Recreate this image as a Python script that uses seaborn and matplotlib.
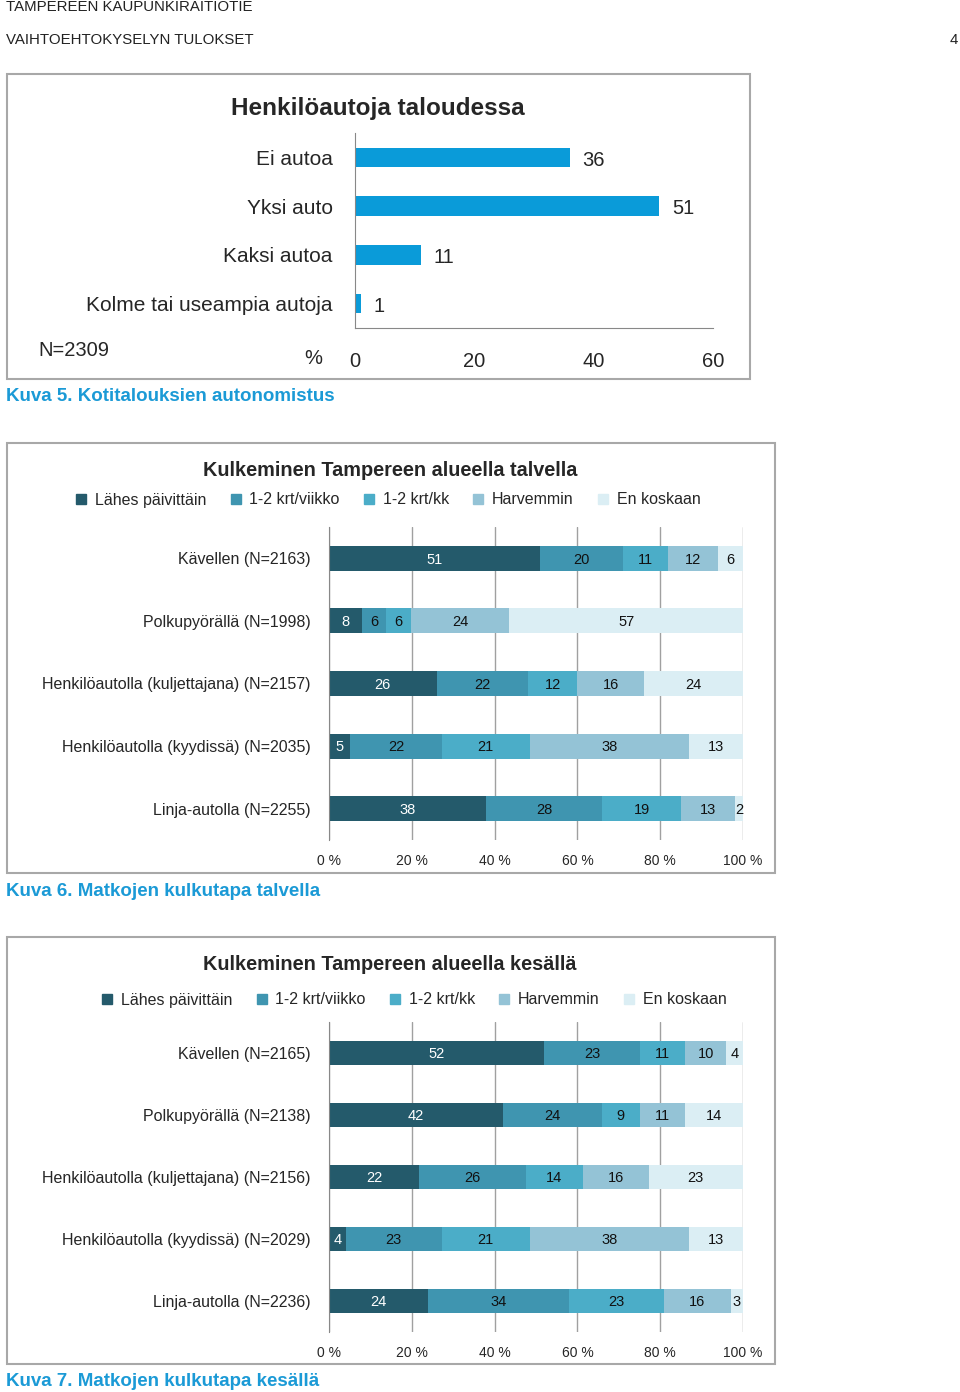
import numpy as np
import matplotlib
matplotlib.use('Agg')
import matplotlib.pyplot as plt
import seaborn as sns
from matplotlib.patches import Rectangle
from matplotlib.lines import Line2D

# data
cars_labels = ['Ei autoa', 'Yksi auto', 'Kaksi autoa', 'Kolme tai useampia autoja']
cars_values = [36, 51, 11, 1]

freq_levels = ['Lähes päivittäin', '1-2 krt/viikko', '1-2 krt/kk', 'Harvemmin', 'En koskaan']
freq_colors = ['#245a6b', '#3f95b0', '#4badc8', '#94c3d6', '#dbeef4']

winter_labels = ['Kävellen (N=2163)', 'Polkupyörällä (N=1998)',
                 'Henkilöautolla (kuljettajana) (N=2157)',
                 'Henkilöautolla (kyydissä) (N=2035)', 'Linja-autolla (N=2255)']
winter_values = [[51, 20, 11, 12, 6],
                 [8, 6, 6, 24, 57],
                 [26, 22, 12, 16, 24],
                 [5, 22, 21, 38, 13],
                 [38, 28, 19, 13, 2]]

summer_labels = ['Kävellen (N=2165)', 'Polkupyörällä (N=2138)',
                 'Henkilöautolla (kuljettajana) (N=2156)',
                 'Henkilöautolla (kyydissä) (N=2029)', 'Linja-autolla (N=2236)']
summer_values = [[52, 23, 11, 10, 4],
                 [42, 24, 9, 11, 14],
                 [22, 26, 14, 16, 23],
                 [4, 23, 21, 38, 13],
                 [24, 34, 23, 16, 3]]

W, H = 960, 1392
sns.set_style('white')
plt.rcParams['font.family'] = ['Liberation Sans', 'DejaVu Sans']
fig = plt.figure(figsize=(W / 100, H / 100), dpi=100)

def fx(x):
    return x / W

def fy(y):
    return 1 - y / H

def add_ax(l, t, r, b):
    return fig.add_axes([fx(l), fy(b), (r - l) / W, (b - t) / H])

def box(l, t, r, b):
    fig.add_artist(Rectangle((fx(l), fy(b)), (r - l) / W, (b - t) / H, transform=fig.transFigure,
                             fill=False, ec='#a8a8a8', lw=1.5))

blue = '#1b9ad6'
grey = '#a0a0a0'

# page header
fig.text(fx(6), fy(7), 'TAMPEREEN KAUPUNKIRAITIOTIE', fontsize=10.8, va='center', color='#222222')
fig.text(fx(6), fy(40), 'VAIHTOEHTOKYSELYN TULOKSET', fontsize=10.8, va='center', color='#222222')
fig.text(fx(958), fy(40), '4', fontsize=10.8, va='center', ha='right', color='#222222')

# ---- panel 1
box(7, 74, 750, 379)
fig.text(fx(378), fy(108), 'Henkilöautoja taloudessa', fontsize=17.5, fontweight='bold', ha='center', va='center')
ax1 = add_ax(355, 133, 713, 328)
sns.barplot(x=cars_values, y=cars_labels, orient='h', color='#0a9bd9', saturation=1,
            width=0.4, errorbar=None, linewidth=0, ax=ax1)
for i, v in enumerate(cars_values):
    ax1.annotate(str(v), (v, i), xytext=(9, -2), textcoords='offset points',
                 ha='left', va='center', fontsize=14.5)
ax1.set_xlim(0, 60)
ax1.set_xticks([0, 20, 40, 60])
ax1.set_yticks(np.arange(-0.5, len(cars_labels), 1), minor=True)
ax1.tick_params(axis='y', which='major', length=0, pad=16, labelsize=15)
ax1.tick_params(axis='y', which='minor', length=5, color='#888888', direction='out')
ax1.tick_params(axis='x', length=5, color='#888888', direction='out', pad=12, labelsize=14.5)
for s in ['top', 'right']:
    ax1.spines[s].set_visible(False)
for s in ['left', 'bottom']:
    ax1.spines[s].set_color('#888888')
ax1.set_xlabel('')
ax1.set_ylabel('')
fig.text(fx(313), fy(358), '%', fontsize=14.5, ha='center', va='center')
fig.text(fx(38), fy(350), 'N=2309', fontsize=14.5, va='center')
fig.text(fx(6), fy(397), 'Kuva 5. Kotitalouksien autonomistus', fontsize=13.5, fontweight='bold',
         color=blue, va='center')


def stacked_panel(l, t, r, b, labels, values, title, title_y, legend_cx, legend_y):
    vals = np.array(values, dtype=float)
    pct = vals / vals.sum(axis=1, keepdims=True) * 100
    cum = pct.cumsum(axis=1)
    ax = add_ax(l, t, r, b)
    for k in range(len(freq_levels) - 1, -1, -1):
        sns.barplot(x=cum[:, k], y=labels, orient='h', color=freq_colors[k], saturation=1,
                    width=0.4, errorbar=None, linewidth=0, ax=ax)
    for i in range(len(labels)):
        for k in range(len(freq_levels)):
            c = cum[i, k] - pct[i, k] / 2
            ax.text(c, i + 0.02, str(values[i][k]), ha='center', va='center', fontsize=10.5,
                    color='white' if k == 0 else '#111111')
    ax.set_xlim(0, 100)
    ax.set_xticks(np.arange(0, 101, 20))
    ax.set_xticklabels([f'{v} %' for v in range(0, 101, 20)])
    ax.xaxis.grid(True, color=grey, lw=1)
    ax.set_axisbelow(True)
    ax.set_yticks(np.arange(-0.5, len(labels), 1), minor=True)
    ax.tick_params(axis='y', which='major', length=0, pad=13, labelsize=11.5)
    ax.tick_params(axis='y', which='minor', length=5, color='#888888', direction='out')
    ax.tick_params(axis='x', length=4, color=grey, direction='out', pad=6, labelsize=10)
    for s in ['top', 'right', 'bottom']:
        ax.spines[s].set_visible(False)
    ax.spines['left'].set_color('#888888')
    ax.set_xlabel('')
    ax.set_ylabel('')
    fig.text(fx(390), fy(title_y), title, fontsize=14.3, fontweight='bold', ha='center', va='center')
    handles = [Line2D([], [], marker='s', linestyle='', markersize=7, color=c) for c in freq_colors]
    fig.legend(handles, freq_levels, loc='center', bbox_to_anchor=(fx(legend_cx), fy(legend_y)),
               ncol=5, frameon=False, fontsize=11.5, handlelength=0.7, handletextpad=0.5,
               columnspacing=1.5, borderpad=0, borderaxespad=0)
    return ax


box(7, 443, 775, 873)
stacked_panel(329, 527, 743, 840, winter_labels, winter_values,
              'Kulkeminen Tampereen alueella talvella', 470, 388, 500)
fig.text(fx(6), fy(891), 'Kuva 6. Matkojen kulkutapa talvella', fontsize=13.5, fontweight='bold',
         color=blue, va='center')

box(7, 937, 775, 1364)
stacked_panel(329, 1022, 743, 1332, summer_labels, summer_values,
              'Kulkeminen Tampereen alueella kesällä', 964, 414, 1000)
fig.text(fx(6), fy(1382), 'Kuva 7. Matkojen kulkutapa kesällä', fontsize=13.5, fontweight='bold',
         color=blue, va='center')

fig.savefig('out.png', dpi=100)
